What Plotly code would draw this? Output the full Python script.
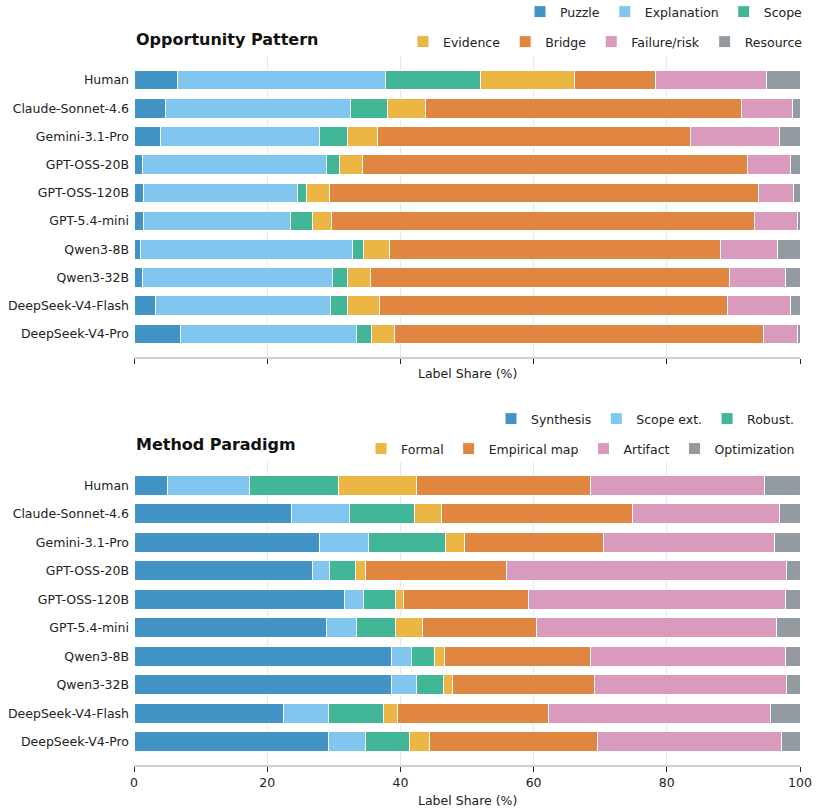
import plotly.graph_objects as go

models = ["Human", "Claude-Sonnet-4.6", "Gemini-3.1-Pro", "GPT-OSS-20B", "GPT-OSS-120B",
          "GPT-5.4-mini", "Qwen3-8B", "Qwen3-32B", "DeepSeek-V4-Flash", "DeepSeek-V4-Pro"]

# Opportunity Pattern shares (%)
opp_labels = ["Puzzle", "Explanation", "Scope", "Evidence", "Bridge", "Failure/risk", "Resource"]
opp_puzzle = [6.5, 4.8, 4.0, 1.3, 1.5, 1.4, 1.0, 1.3, 3.2, 7.0]
opp_explanation = [31.2, 27.7, 23.9, 27.6, 23.0, 22.1, 31.8, 28.5, 26.3, 26.4]
opp_scope = [14.4, 5.6, 4.1, 2.0, 1.4, 3.3, 1.7, 2.3, 2.6, 2.3]
opp_evidence = [14.1, 5.7, 4.5, 3.4, 3.4, 2.9, 3.8, 3.4, 4.7, 3.4]
opp_bridge = [12.1, 47.4, 47.0, 57.8, 64.4, 63.4, 49.8, 53.9, 52.3, 55.4]
opp_failure = [16.7, 7.6, 13.4, 6.5, 5.3, 6.5, 8.5, 8.4, 9.5, 5.1]
opp_resource = [5.0, 1.2, 3.1, 1.4, 1.0, 0.4, 3.4, 2.2, 1.4, 0.4]

# Method Paradigm shares (%)
met_labels = ["Synthesis", "Scope ext.", "Robust.", "Formal", "Empirical map", "Artifact", "Optimization"]
met_synthesis = [5.0, 23.7, 27.8, 26.8, 31.6, 28.9, 38.7, 38.6, 22.5, 29.2]
met_scope_ext = [12.3, 8.6, 7.4, 2.6, 2.8, 4.5, 2.9, 3.8, 6.7, 5.6]
met_robust = [13.4, 9.8, 11.6, 3.8, 4.8, 5.8, 3.5, 4.0, 8.3, 6.5]
met_formal = [11.7, 4.0, 2.8, 1.5, 1.3, 4.1, 1.5, 1.4, 2.0, 3.1]
met_empirical = [26.2, 28.7, 20.9, 21.2, 18.8, 17.1, 22.0, 21.4, 22.8, 25.2]
met_artifact = [26.0, 22.1, 25.6, 42.0, 38.5, 36.1, 29.2, 28.7, 33.2, 27.6]
met_optimization = [5.4, 3.1, 3.9, 2.1, 2.2, 3.5, 2.2, 2.1, 4.5, 2.8]

colors = ["#4394c6", "#80c6ee", "#42b797", "#ebb643", "#e08641", "#d99abd", "#939aa0"]

opp_series = [opp_puzzle, opp_explanation, opp_scope, opp_evidence, opp_bridge, opp_failure, opp_resource]
met_series = [met_synthesis, met_scope_ext, met_robust, met_formal, met_empirical, met_artifact, met_optimization]

fig = go.Figure()

def add_group(labels, series, xa, ya, leg_a, leg_b):
    for i, (name, vals) in enumerate(zip(labels, series)):
        fig.add_trace(go.Bar(
            x=vals, y=models, orientation="h", name=name,
            marker=dict(color=colors[i], line=dict(color="white", width=1)),
            xaxis=xa, yaxis=ya, legend=leg_a if i < 3 else leg_b,
        ))

add_group(opp_labels, opp_series, "x", "y", "legend", "legend2")
add_group(met_labels, met_series, "x2", "y2", "legend3", "legend4")

H_TOP, H_BOT = 57, 47
plot_h = 812 - H_TOP - H_BOT

def py(pix):
    return (812 - H_BOT - pix) / plot_h

font = "DejaVu Sans"
xcommon = dict(range=[0, 100], tickvals=[0, 20, 40, 60, 80, 100], showgrid=True,
               gridcolor="#e3e7ed", gridwidth=1, showline=True, linecolor="#c9ced6", linewidth=2,
               ticks="outside", ticklen=5, tickcolor="#222", tickwidth=1, zeroline=False,
               tickfont=dict(size=12.5, color="#222"))
ycommon = dict(categoryorder="array", categoryarray=models, range=[9.82, -0.82],
               showgrid=False, ticks="", ticklabelstandoff=4,
               tickfont=dict(size=12.5, color="#222"), showline=False)

legcommon = dict(orientation="h", xanchor="right", yanchor="middle",
                 font=dict(size=12.5, color="#222", family=font), bgcolor="rgba(0,0,0,0)",
                 traceorder="normal", itemwidth=30)

fig.update_layout(
    width=819, height=812, barmode="stack", bargap=0.3,
    margin=dict(l=134, r=19, t=H_TOP, b=H_BOT, autoexpand=False),
    plot_bgcolor="white", paper_bgcolor="white",
    font=dict(family=font, color="#222"),
    xaxis=dict(domain=[0, 1], anchor="y", showticklabels=False, **xcommon),
    yaxis=dict(domain=[py(357), 1.0], anchor="x", **ycommon),
    xaxis2=dict(domain=[0, 1], anchor="y2", showticklabels=True, **xcommon),
    yaxis2=dict(domain=[0, py(462)], anchor="x2", **ycommon),
    legend=dict(x=1.012, y=py(12), **legcommon),
    legend2=dict(x=1.012, y=py(42), **legcommon),
    legend3=dict(x=1.0, y=py(419), **legcommon),
    legend4=dict(x=1.0, y=py(449), **legcommon),
    annotations=[
        dict(text="<b>Opportunity Pattern</b>", x=0, xref="paper", xanchor="left",
             y=py(39), yref="paper", yanchor="middle", showarrow=False,
             font=dict(size=16, color="#111")),
        dict(text="<b>Method Paradigm</b>", x=0, xref="paper", xanchor="left",
             y=py(445), yref="paper", yanchor="middle", showarrow=False,
             font=dict(size=16, color="#111")),
        dict(text="Label Share (%)", x=0.5, xref="paper", xanchor="center",
             y=py(374), yref="paper", yanchor="middle", showarrow=False,
             font=dict(size=12.5, color="#222")),
        dict(text="Label Share (%)", x=0.5, xref="paper", xanchor="center",
             y=py(800), yref="paper", yanchor="middle", showarrow=False,
             font=dict(size=12.5, color="#222")),
    ],
)

fig.write_html("out.html")
